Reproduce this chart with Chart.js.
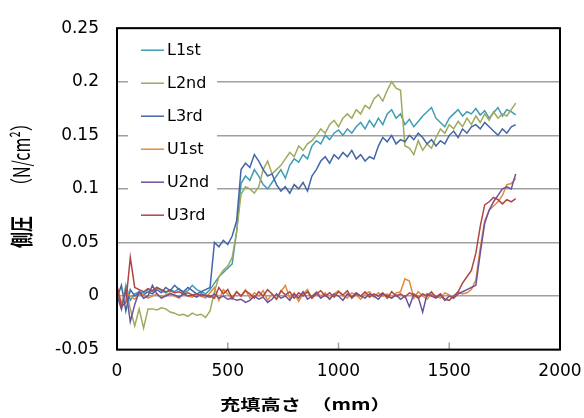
<!DOCTYPE html>
<html>
<head>
<meta charset="utf-8">
<script src="https://cdn.jsdelivr.net/npm/chart.js@4/dist/chart.umd.min.js"></script>
<style>
    html, body { margin: 0; padding: 0; background: #fff; }
    #caixa { width: 584px; height: 418px; }
</style>
</head>
<body>
<div id="caixa"><canvas id="grafico" width="584" height="418"></canvas></div>
<script>
// 充填高さ (mm)
const heights = [0,20,40,60,80,100,120,140,160,180,200,220,240,260,280,300,320,340,360,380,
    400,420,440,460,480,500,520,540,560,580,600,620,640,660,680,700,720,740,760,780,
    800,820,840,860,880,900,920,940,960,980,1000,1020,1040,1060,1080,1100,1120,1140,1160,1180,
    1200,1220,1240,1260,1280,1300,1320,1340,1360,1380,1400,1420,1440,1460,1480,1500,1520,1540,1560,1580,
    1600,1620,1640,1660,1680,1700,1720,1740,1760,1780,1800];

// 側圧 (N/cm2)
const l1st = [0.005,-0.012,0.010,-0.004,0.002,0.004,0.003,0.006,0.004,0.008,
    0.005,0.003,0.006,0.004,0.007,0.003,0.005,0.010,0.006,0.004,
    0.002,0.006,0.012,0.018,0.022,0.026,0.030,0.060,0.105,0.112,
    0.108,0.118,0.112,0.104,0.100,0.106,0.112,0.118,0.110,0.122,
    0.128,0.125,0.132,0.128,0.140,0.145,0.142,0.150,0.146,0.152,
    0.155,0.150,0.156,0.152,0.158,0.162,0.156,0.164,0.158,0.166,
    0.160,0.170,0.174,0.166,0.170,0.160,0.165,0.158,0.163,0.168,
    0.172,0.176,0.166,0.162,0.158,0.166,0.170,0.174,0.168,0.172,
    0.170,0.175,0.169,0.173,0.166,0.171,0.176,0.168,0.174,0.172,
    0.169];
const l2nd = [0.002,-0.010,0.008,-0.012,-0.028,-0.012,-0.030,-0.012,-0.012,-0.013,
    -0.011,-0.012,-0.015,-0.016,-0.018,-0.017,-0.019,-0.016,-0.018,-0.017,
    -0.020,-0.014,0.004,0.018,0.024,0.028,0.036,0.060,0.095,0.102,
    0.100,0.096,0.102,0.118,0.126,0.114,0.118,0.122,0.128,0.134,
    0.130,0.140,0.136,0.142,0.145,0.150,0.156,0.152,0.160,0.164,
    0.158,0.166,0.170,0.166,0.174,0.170,0.178,0.175,0.184,0.188,
    0.182,0.192,0.200,0.194,0.192,0.140,0.138,0.132,0.145,0.136,
    0.142,0.138,0.148,0.156,0.152,0.160,0.156,0.163,0.158,0.166,
    0.160,0.168,0.162,0.170,0.164,0.172,0.166,0.170,0.168,0.174,
    0.180];
const l3rd = [-0.002,0.010,-0.014,0.006,0.000,0.003,0.001,0.004,0.002,0.006,
    0.003,0.008,0.005,0.010,0.006,0.004,0.008,0.005,0.002,0.004,
    0.006,0.008,0.050,0.046,0.052,0.048,0.056,0.070,0.118,0.124,
    0.120,0.132,0.126,0.118,0.112,0.114,0.104,0.098,0.102,0.096,
    0.104,0.100,0.106,0.098,0.112,0.118,0.126,0.130,0.124,0.132,
    0.128,0.134,0.130,0.136,0.128,0.132,0.126,0.130,0.128,0.140,
    0.148,0.144,0.150,0.142,0.146,0.144,0.150,0.146,0.152,0.148,
    0.142,0.146,0.140,0.145,0.142,0.150,0.154,0.148,0.156,0.152,
    0.158,0.160,0.156,0.162,0.158,0.154,0.150,0.156,0.152,0.158,
    0.160];
const u1st = [0.008,-0.006,0.004,0.000,-0.003,0.002,0.001,-0.002,0.000,0.002,
    -0.001,0.001,0.003,0.000,-0.002,0.002,0.000,-0.001,0.002,0.000,
    -0.002,0.003,0.008,-0.004,0.006,0.002,-0.003,0.004,0.000,0.006,
    -0.002,0.003,0.000,0.005,-0.004,0.002,-0.003,0.004,0.010,-0.002,
    0.003,-0.005,0.002,0.006,-0.002,0.004,0.000,0.003,-0.003,0.002,
    0.005,0.000,-0.002,0.003,0.001,-0.003,0.002,0.004,-0.001,0.003,
    0.000,0.002,-0.002,0.003,0.004,0.016,0.014,-0.002,0.004,0.000,
    -0.003,0.002,0.000,-0.002,0.003,0.001,-0.002,0.004,0.002,0.003,
    0.006,0.015,0.045,0.070,0.080,0.084,0.088,0.094,0.104,0.105,
    0.110];
const u2nd = [0.000,-0.012,0.006,-0.024,-0.008,0.004,-0.002,0.000,0.010,0.002,
    -0.002,0.000,0.002,0.001,-0.001,0.002,0.000,0.001,-0.001,0.002,
    0.000,-0.001,0.002,-0.002,0.000,-0.003,-0.002,-0.004,-0.003,-0.006,
    -0.004,0.000,-0.003,-0.001,-0.006,-0.003,0.002,-0.002,0.000,-0.004,
    0.002,-0.002,0.004,-0.003,0.000,0.003,-0.002,0.001,-0.003,0.002,
    0.000,-0.004,0.002,-0.001,0.003,0.000,-0.002,0.002,0.000,-0.003,
    0.002,0.000,-0.002,0.001,-0.003,0.000,-0.010,0.002,-0.001,-0.015,
    0.002,0.000,-0.002,0.001,-0.004,0.000,-0.002,0.002,0.004,0.006,
    0.008,0.010,0.040,0.068,0.080,0.088,0.094,0.100,0.102,0.100,
    0.114];
const u3rd = [0.010,-0.010,-0.006,0.036,0.008,0.006,0.004,0.007,0.005,0.008,
    0.006,0.004,0.005,0.003,0.004,0.002,0.003,0.001,0.002,0.000,
    0.001,0.000,-0.002,0.008,0.002,0.006,-0.002,0.004,0.000,0.005,
    0.002,-0.002,0.004,0.000,0.006,0.002,-0.003,0.005,0.001,0.004,
    -0.002,0.003,0.000,0.004,-0.002,0.002,0.005,0.000,0.003,-0.001,
    0.004,0.001,0.005,-0.002,0.002,0.000,0.004,-0.001,0.002,0.000,
    0.003,-0.002,0.004,0.000,0.002,-0.001,0.003,0.001,-0.002,0.002,
    0.000,0.004,-0.001,0.002,-0.003,-0.004,0.000,0.004,0.012,0.018,
    0.024,0.040,0.065,0.085,0.088,0.092,0.090,0.086,0.090,0.088,
    0.091];

const seriesNames = ['L1st', 'L2nd', 'L3rd', 'U1st', 'U2nd', 'U3rd'];
const seriesValues = [l1st, l2nd, l3rd, u1st, u2nd, u3rd];
const seriesColors = ['#3f9db3', '#9eaa5c', '#4266a6', '#e28a3e', '#6c529c', '#ae4744'];

const xTicks = [0, 500, 1000, 1500, 2000];
const xTickLabels = ['0', '500', '1000', '1500', '2000'];
const yTickLabels = ['-0.05', '0', '0.05', '0.1', '0.15', '0.2', '0.25'];
const xTitle = '充填高さ　（mm）';
const yTitleMain = '側圧';
const yTitleUnit = '（N/cm²）';

// borda, marcas internas, legenda e títulos
const decoracao = {
    id: 'decoracao',
    afterDraw(chart) {
        const ctx = chart.ctx;
        const a = chart.chartArea;
        const x = chart.scales.x;
        ctx.save();

        ctx.strokeStyle = '#a0a0a0';
        ctx.lineWidth = 1.5;
        xTicks.forEach((v) => {
            const px = x.getPixelForValue(v);
            ctx.beginPath();
            ctx.moveTo(px, a.bottom);
            ctx.lineTo(px, a.bottom - 7);
            ctx.stroke();
        });

        ctx.strokeStyle = '#000';
        ctx.lineWidth = 2;
        ctx.strokeRect(a.left, a.top, a.right - a.left, a.bottom - a.top);

        // legenda
        ctx.fillStyle = '#fff';
        ctx.fillRect(a.left + 11, a.top + 5, 89, 197);
        ctx.font = '16px "DejaVu Sans"';
        ctx.textBaseline = 'middle';
        ctx.textAlign = 'left';
        seriesNames.forEach((nome, k) => {
            const yy = a.top + 22 + k * 33;
            ctx.strokeStyle = seriesColors[k];
            ctx.lineWidth = 1.5;
            ctx.beginPath();
            ctx.moveTo(a.left + 24, yy);
            ctx.lineTo(a.left + 47, yy);
            ctx.stroke();
            ctx.fillStyle = '#000';
            ctx.fillText(nome, a.left + 50, yy + 1);
        });

        // título x
        ctx.save();
        ctx.translate(220, 404);
        ctx.scale(1.35, 1);
        ctx.font = 'bold 15px "Noto Sans CJK JP"';
        ctx.fillStyle = '#000';
        ctx.fillText(xTitle, 0, 0);
        ctx.restore();

        // título y
        ctx.save();
        ctx.translate(21, 248);
        ctx.scale(1.45, 1);
        ctx.rotate(-Math.PI / 2);
        ctx.fillStyle = '#000';
        ctx.font = 'bold 16px "Noto Sans CJK JP"';
        ctx.fillText(yTitleMain, 0, 0);
        const w1 = ctx.measureText(yTitleMain).width;
        ctx.font = '16px "Noto Sans CJK JP"';
        ctx.fillText(yTitleUnit, w1 + 22, 0);
        ctx.restore();

        ctx.restore();
    }
};

function plotar() {
    const ctx = document.getElementById('grafico').getContext('2d');
    const datasets = seriesValues.map((vals, k) => ({
        label: seriesNames[k],
        data: heights.map((h, i) => ({ x: h, y: vals[i] })),
        borderColor: seriesColors[k],
        borderWidth: 1.5,
        pointRadius: 0,
        tension: 0,
        fill: false,
        order: seriesNames.length - k
    }));

    window.grafico = new Chart(ctx, {
        type: 'line',
        data: { datasets: datasets },
        options: {
            responsive: false,
            animation: false,
            devicePixelRatio: 1,
            layout: { padding: { left: 0, top: 14, right: 24, bottom: 24 } },
            plugins: {
                legend: { display: false },
                tooltip: { enabled: false }
            },
            scales: {
                x: {
                    type: 'linear',
                    min: 0,
                    max: 2000,
                    afterFit: (s) => { s.paddingRight = 0; s.paddingLeft = 0; },
                    ticks: {
                        stepSize: 500,
                        maxRotation: 0,
                        padding: 12,
                        color: '#000',
                        font: { family: 'DejaVu Sans', size: 17 },
                        callback: (v, i) => xTickLabels[i]
                    },
                    grid: { display: false, drawTicks: false },
                    border: { display: false }
                },
                y: {
                    min: -0.05,
                    max: 0.25,
                    afterFit: (s) => { s.width = 117; },
                    ticks: {
                        stepSize: 0.05,
                        padding: 18,
                        color: '#000',
                        font: { family: 'DejaVu Sans', size: 17 },
                        callback: (v, i) => yTickLabels[i]
                    },
                    grid: { color: '#a0a0a0', lineWidth: 1.5, drawTicks: false },
                    border: { display: false }
                }
            }
        },
        plugins: [decoracao]
    });
}

window.addEventListener('DOMContentLoaded', plotar);
</script>
</body>
</html>
